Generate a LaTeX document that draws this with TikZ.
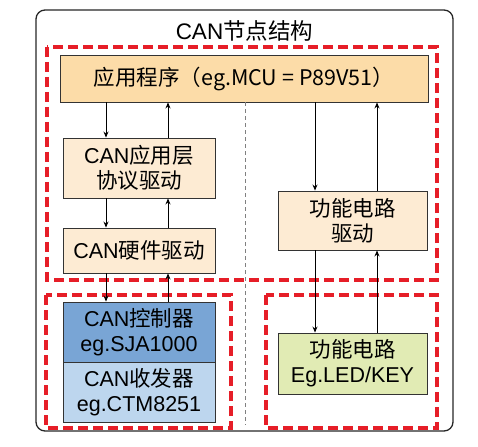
\documentclass[tikz,border=0pt]{standalone}
\usepackage{fontspec}
\setmainfont{Liberation Sans}
\newfontfamily\cjk{Noto Sans CJK SC}
\usetikzlibrary{arrows.meta}
\definecolor{apporange}{HTML}{FCDCA8}
\definecolor{beige}{HTML}{FDEBD3}
\definecolor{midblue}{HTML}{79A5D5}
\definecolor{lightblue}{HTML}{BDD6EE}
\definecolor{lightgreen}{HTML}{E1EBB4}
\definecolor{reddash}{HTML}{E61E28}
\definecolor{boxline}{HTML}{333333}
\tikzset{
  box/.style={draw=boxline, line width=0.9pt, align=center, inner sep=0pt, font=\fontsize{21.5}{25}\selectfont},
  arr/.style={-{Stealth[length=6pt,width=5pt]}, line width=0.8pt, black},
  reddbox/.style={draw=reddash, line width=3.3pt, dash pattern=on 10pt off 5pt},
  grayline/.style={draw=gray, line width=1pt, dash pattern=on 4pt off 3pt},
}
\begin{document}
\begin{tikzpicture}[x=1pt,y=-1pt]
\useasboundingbox (0,0) rectangle (478,446);
% outer box
\draw[line width=1.3pt, draw=black!85, rounded corners=9pt] (36,10) rectangle (453,431);
\node[font=\fontsize{22.5}{26}\selectfont] (title) at (244.5,31) {CAN\cjk{节点结构}};
% red dashed regions
\draw[reddbox] (47,47) rectangle (437,280);
\draw[reddbox] (46,295) rectangle (231,428);
\draw[reddbox] (266,295) rectangle (437,428);
% boxes
\node[box, fill=apporange, minimum width=368pt, minimum height=47pt] (app) at (244,78.5)
  {\cjk{应用程序（}eg.MCU = P89V51\cjk{）}};
\node[box, fill=beige, minimum width=152pt, minimum height=60pt] (l1) at (139,168)
  {CAN\cjk{应用层}\\\cjk{协议驱动}};
\node[box, fill=beige, minimum width=152pt, minimum height=45pt] (l2) at (139,250.5)
  {CAN\cjk{硬件驱动}};
\node[box, fill=beige, minimum width=149pt, minimum height=59pt] (r1) at (352.5,220.5)
  {\cjk{功能电路}\\\cjk{驱动}};
\node[box, fill=midblue, minimum width=152pt, minimum height=60pt] (ctrl) at (139,332)
  {CAN\cjk{控制器}\\eg.SJA1000};
\node[box, fill=lightblue, minimum width=152pt, minimum height=60pt] (xcvr) at (139,392)
  {CAN\cjk{收发器}\\eg.CTM8251};
\node[box, fill=lightgreen, minimum width=149pt, minimum height=61pt] (func) at (352.5,363.5)
  {\cjk{功能电路}\\Eg.LED/KEY};
% x positions
\coordinate (xd) at (106,0);
\coordinate (xu) at (168,0);
\coordinate (xrd) at (315,0);
\coordinate (xru) at (377,0);
\coordinate (xg) at (245,0);
\coordinate (gend) at (245,425);
% gray divider
\draw[grayline] (app.south -| xg) -- (gend);
% arrows left
\draw[arr] (app.south -| xd) -- (l1.north -| xd);
\draw[arr] (l1.north -| xu) -- (app.south -| xu);
\draw[arr] (l1.south -| xd) -- (l2.north -| xd);
\draw[arr] (l2.north -| xu) -- (l1.south -| xu);
\draw[arr] (l2.south -| xd) -- (ctrl.north -| xd);
\draw[arr] (ctrl.north -| xu) -- (l2.south -| xu);
% arrows right
\draw[arr] (app.south -| xrd) -- (r1.north -| xrd);
\draw[arr] (r1.north -| xru) -- (app.south -| xru);
\draw[arr] (r1.south -| xrd) -- (func.north -| xrd);
\draw[arr] (func.north -| xru) -- (r1.south -| xru);
\end{tikzpicture}
\end{document}
